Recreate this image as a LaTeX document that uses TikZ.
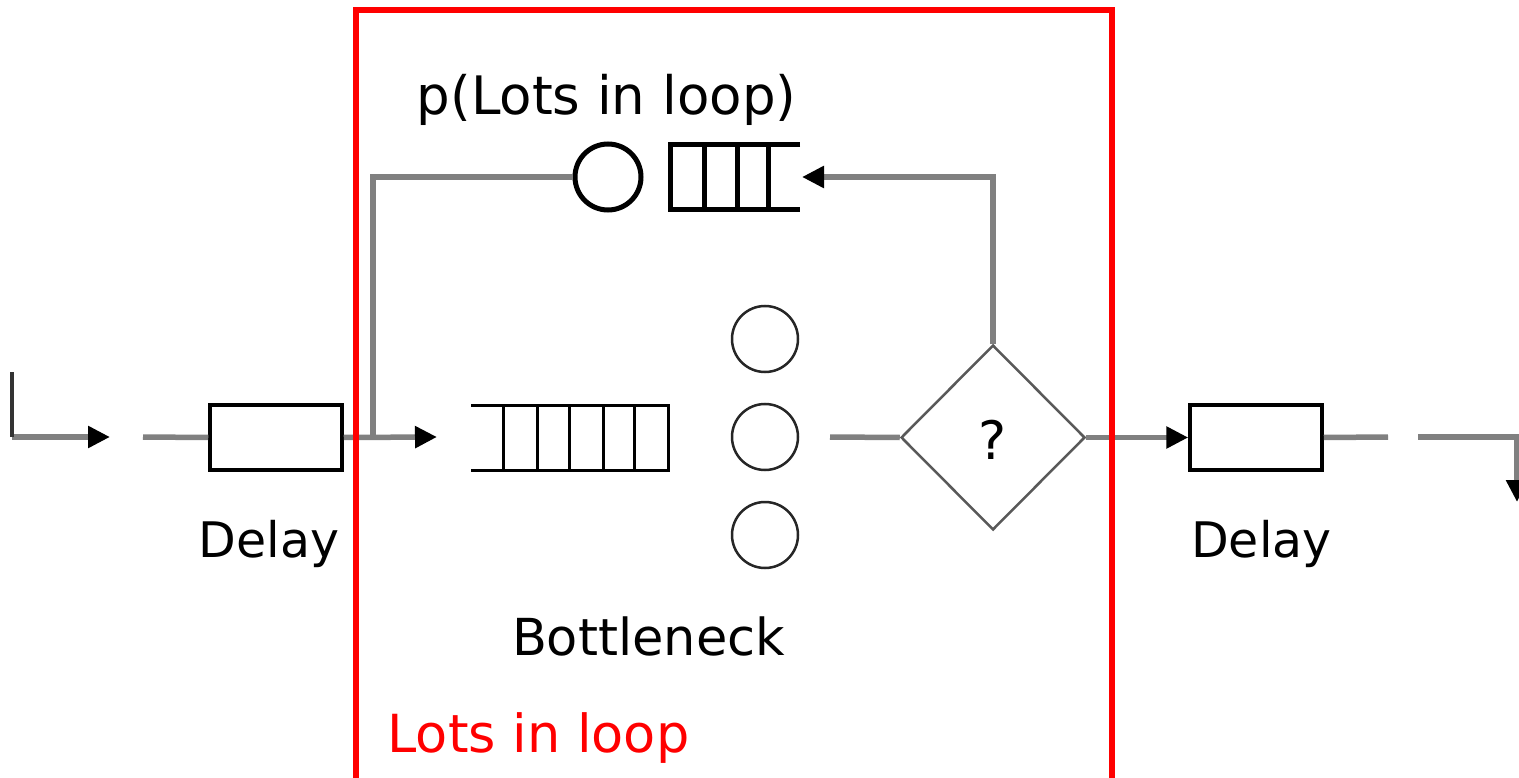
\documentclass[tikz,border=0pt]{standalone}
\usepackage{fontspec}
\setmainfont{DejaVu Sans}
\usetikzlibrary{arrows.meta,shapes.geometric}
\definecolor{flow}{gray}{0.5}
\definecolor{loopred}{RGB}{255,0,0}
\begin{document}
\begin{tikzpicture}[x=1pt,y=-1pt,
  flowline/.style={draw=flow,line width=5.5pt},
  tip/.style={-{Triangle[length=22pt,width=21pt,color=black]}},
  delaybox/.style={draw=black,line width=3.5pt,minimum width=132pt,minimum height=65pt,inner sep=0pt},
  server/.style={circle,draw=black!85,line width=2.5pt,minimum size=66pt,inner sep=0pt},
  slot/.style={inner sep=0pt,outer sep=0pt},
  lbl/.style={inner sep=0pt,anchor=base,font=\fontsize{49pt}{59pt}\selectfont},
  line join=miter]
\useasboundingbox (0,0) rectangle (1519,778);
\fill[white] (0,0) rectangle (1519,778);
\clip (0,0) rectangle (1519,778);

% stations
\node[delaybox] (d1) at (276,437.5) {};
\node[delaybox] (d2) at (1256,437.5) {};
\node[diamond,aspect=1,draw=black!65,line width=2.5pt,minimum width=184pt,minimum height=185pt,
      inner sep=0pt] (dec) at (993,437.5) {};
\node[lbl,font=\fontsize{53pt}{63pt}\selectfont] (qmark) at (993,459) {?};
\node[circle,draw=black,line width=5pt,minimum size=66pt,inner sep=0pt] (srv) at (608,177) {};
\node[server] (s1) at (765,339) {};
\node[server] (s2) at (765,437) {};
\node[server] (s3) at (765,535) {};

% feedback queue
\node[slot,minimum width=130pt,minimum height=65pt] (fq) at (735,177.5) {};
\draw[line width=5pt] (fq.north east) -- (fq.north west) -- (fq.south west) -- (fq.south east);
\foreach \x in {704,737,768} \draw[line width=5pt] (\x,145) -- (\x,210);

% bottleneck queue
\node[slot,minimum width=197pt,minimum height=65pt] (bq) at (569.5,437.5) {};
\draw[line width=3pt] (bq.north west) -- (bq.north east) -- (bq.south east) -- (bq.south west);
\foreach \x in {503,537,569,603,634} \draw[line width=3pt] (\x,405) -- (\x,470);

% flow
\coordinate (inA) at (12,372);
\coordinate (inB) at (12,437);
\coordinate (inTip) at (110,437);
\coordinate (inC) at (143,437);
\coordinate (qin) at (437,437);
\coordinate (split) at (373,437);
\coordinate (sout) at (830,437);
\coordinate (fbTip) at (802,177);
\coordinate (outA) at (1388,437);
\coordinate (outB) at (1418,437);
\coordinate (outC) at (1517,437);
\coordinate (outTip) at (1517,502);

\draw[flowline,tip] (inB) -- (inTip);
\draw[line width=3.5pt,draw=black!80] (inA) -- (inB);
\draw[flowline] (inC) -- (d1.west);
\draw[flowline,tip] (d1.east) -- (qin);
\draw[flowline] (split) -- (split |- srv) -- (srv.west);
\draw[flowline] (sout) -- (dec.west);
\draw[flowline,tip] (dec.north) -- (dec.north |- srv) -- (fbTip);
\draw[flowline,tip] (dec.east) -- (d2.west);
\draw[flowline] (d2.east) -- (outA);
\draw[flowline,tip] (outB) -- (outC) -- (outTip);

% loop boundary
\draw[loopred,line width=5.5pt] (356,10) rectangle (1112,800);

% labels
\node[lbl] (tDelayA) at (269,557) {Delay};
\node[lbl] (tDelayB) at (1261.5,557) {Delay};
\node[lbl,font=\fontsize{51pt}{61pt}\selectfont] (tBottle) at (648.5,655) {Bottleneck};
\node[lbl,font=\fontsize{53pt}{63pt}\selectfont] (tProb) at (606.5,115) {p(Lots in loop)};
\node[lbl,font=\fontsize{52.5pt}{63pt}\selectfont,text=loopred] (tLoop) at (538.5,752) {Lots in loop};
\end{tikzpicture}
\end{document}
